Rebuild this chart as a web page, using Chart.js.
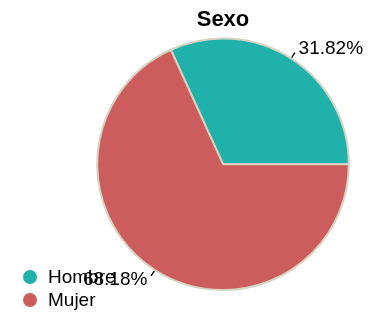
<!DOCTYPE html>
<html>
<head>
<meta charset="utf-8">
<script src="https://cdn.jsdelivr.net/npm/chart.js@4"></script>
<style>
html,body{margin:0;padding:0;background:#fff;}
#wrap{width:380px;height:312px;position:relative;}
</style>
</head>
<body>
<div id="wrap"><canvas id="c" width="380" height="312"></canvas></div>
<script>
const categories = ["Hombre", "Mujer"];
const values = [31.82, 68.18];
const percentLabels = ["31.82%", "68.18%"];
const colors = ["#20B2AA", "#CD5C5C"];
const titleText = "Sexo";
const FONT = "'Liberation Sans', Arial, sans-serif";

const outsideLabels = {
  id: 'outsideLabels',
  afterDatasetsDraw(chart) {
    const ctx = chart.ctx;
    const meta = chart.getDatasetMeta(0);
    ctx.save();
    meta.data.forEach((arc, i) => {
      const mid = (arc.startAngle + arc.endAngle) / 2;
      const cx = arc.x, cy = arc.y, r = arc.outerRadius;
      const c = Math.cos(mid), s = Math.sin(mid);
      ctx.strokeStyle = '#000';
      ctx.lineWidth = 1.3;
      ctx.beginPath();
      ctx.moveTo(cx + c * (r + 1), cy + s * (r + 1));
      ctx.lineTo(cx + c * (r + 7), cy + s * (r + 7));
      ctx.stroke();
      const tr = r + 12;
      const tx = cx + c * tr, ty = cy + s * tr;
      ctx.font = "19px " + FONT;
      ctx.fillStyle = '#000';
      ctx.textBaseline = 'middle';
      ctx.textAlign = c >= 0 ? 'left' : 'right';
      ctx.fillText(percentLabels[i], tx + (c >= 0 ? 1 : -1), ty);
    });
    ctx.restore();
  }
};

const overlayLegend = {
  id: 'overlayLegend',
  afterDraw(chart) {
    const ctx = chart.ctx;
    ctx.save();
    ctx.font = "19px " + FONT;
    ctx.textBaseline = 'middle';
    ctx.textAlign = 'left';
    chart.data.labels.forEach((lab, i) => {
      const y = 277 + i * 23;
      ctx.fillStyle = chart.data.datasets[0].backgroundColor[i];
      ctx.beginPath();
      ctx.arc(30, y, 7, 0, Math.PI * 2);
      ctx.fill();
      ctx.fillStyle = '#000';
      ctx.fillText(lab, 48, y + 1);
    });
    ctx.restore();
  }
};

new Chart(document.getElementById('c'), {
  type: 'pie',
  data: {
    labels: categories,
    datasets: [{
      data: values,
      backgroundColor: colors,
      borderColor: '#d6d2c2',
      borderWidth: 2
    }]
  },
  options: {
    responsive: false,
    animation: false,
    rotation: -24.5,
    layout: { padding: { left: 76, right: 10, top: 0, bottom: 21 } },
    plugins: {
      legend: { display: false },
      tooltip: { enabled: false },
      title: {
        display: true,
        text: titleText,
        color: '#000',
        font: { family: FONT, size: 22, weight: 'bold' },
        padding: { top: 7, bottom: 4 }
      }
    }
  },
  plugins: [outsideLabels, overlayLegend]
});
</script>
</body>
</html>
